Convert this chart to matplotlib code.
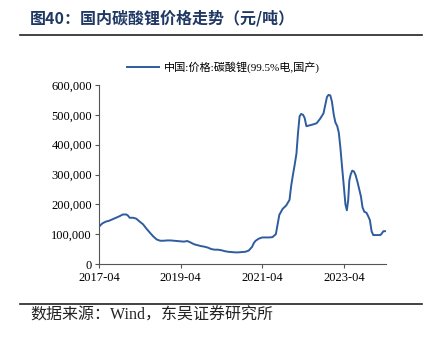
import matplotlib
matplotlib.use("Agg")
import matplotlib.pyplot as plt
import matplotlib.dates as mdates
from matplotlib.lines import Line2D
import pandas as pd

plt.rcParams['font.family'] = ['Liberation Serif', 'Noto Sans CJK SC']
plt.rcParams['axes.unicode_minus'] = False

# price of battery-grade lithium carbonate, yuan per tonne
dates = [
    "2017-04-01", "2017-04-15", "2017-05-01", "2017-06-01", "2017-07-01", "2017-08-01",
    "2017-09-01", "2017-10-01", "2017-11-01", "2017-12-01", "2017-12-15", "2018-01-01",
    "2018-02-01", "2018-03-01", "2018-04-01", "2018-05-01", "2018-06-01", "2018-07-01",
    "2018-08-01", "2018-09-01", "2018-10-01", "2018-11-01", "2018-12-01", "2019-01-01",
    "2019-02-01", "2019-03-01", "2019-04-01", "2019-05-01", "2019-06-01", "2019-07-01",
    "2019-08-01", "2019-09-01", "2019-10-01", "2019-11-01", "2019-12-01", "2020-01-01",
    "2020-02-01", "2020-03-01", "2020-04-01", "2020-05-01", "2020-06-01", "2020-07-01",
    "2020-08-01", "2020-09-01", "2020-10-01", "2020-11-01", "2020-12-01", "2021-01-01",
    "2021-01-15", "2021-02-01", "2021-03-01", "2021-04-01", "2021-05-01", "2021-06-01",
    "2021-07-01", "2021-08-01", "2021-08-15", "2021-09-01", "2021-10-01", "2021-11-01",
    "2021-12-01", "2021-12-15", "2022-01-01", "2022-01-15", "2022-02-01", "2022-02-15",
    "2022-03-01", "2022-03-15", "2022-04-01", "2022-04-15", "2022-05-01", "2022-06-01",
    "2022-07-01", "2022-08-01", "2022-09-01", "2022-10-01", "2022-10-15", "2022-11-01",
    "2022-11-15", "2022-12-01", "2022-12-15", "2023-01-01", "2023-01-15", "2023-02-01",
    "2023-02-15", "2023-03-01", "2023-03-15", "2023-04-01", "2023-04-15", "2023-04-28",
    "2023-05-10", "2023-05-20", "2023-06-01", "2023-06-15", "2023-07-01", "2023-07-15",
    "2023-08-01", "2023-09-01", "2023-09-15", "2023-10-01", "2023-10-20", "2023-11-05",
    "2023-11-20", "2023-12-05", "2023-12-20", "2024-01-10", "2024-02-01", "2024-02-20",
    "2024-03-01", "2024-03-20", "2024-04-10",
]
price = [
    125000, 130000, 136000, 142000, 145000, 150000,
    155000, 160000, 166000, 166000, 163000, 155000,
    155000, 152000, 142000, 133000, 118000, 105000,
    92000, 82000, 78000, 78000, 79000, 79000,
    78000, 77000, 76000, 75000, 77000, 72000,
    66000, 63000, 60000, 58000, 55000, 50000,
    48000, 48000, 46000, 43000, 41000, 40000,
    39000, 39000, 40000, 41000, 45000, 58000,
    70000, 78000, 85000, 89000, 89000, 89000,
    90000, 100000, 130000, 165000, 185000, 196000,
    215000, 260000, 300000, 330000, 370000, 440000,
    495000, 503000, 500000, 490000, 462000, 465000,
    468000, 472000, 487000, 505000, 530000, 560000,
    567000, 565000, 545000, 500000, 475000, 462000,
    440000, 390000, 330000, 260000, 200000, 180000,
    215000, 280000, 300000, 313000, 310000, 298000,
    275000, 226000, 190000, 175000, 172000, 160000,
    147000, 110000, 97000, 97000, 97000, 97000,
    100000, 110000, 110000,
]

x = pd.to_datetime(dates)

fig = plt.figure(figsize=(4.32, 3.41), dpi=100)
ax = fig.add_axes([0.229, 0.2258, 0.6645, 0.5249])

ax.plot(x, price, color='#2F5C9E', lw=1.4, label='中国:价格:碳酸锂(99.5%电,国产)')

ax.set_ylim(0, 600000)
ax.set_yticks(range(0, 600001, 100000))
ax.yaxis.set_major_formatter(matplotlib.ticker.FuncFormatter(lambda v, p: f'{int(v):,}'))
ax.set_xlim(pd.Timestamp('2017-04-01'), pd.Timestamp('2024-04-12'))
ax.set_xticks(pd.to_datetime(['2017-04-01', '2019-04-01', '2021-04-01', '2023-04-01']))
ax.xaxis.set_major_formatter(mdates.DateFormatter('%Y-%m'))

for s in ['top', 'right']:
    ax.spines[s].set_visible(False)
for s in ['left', 'bottom']:
    ax.spines[s].set_color('#555555')
    ax.spines[s].set_linewidth(0.8)
ax.tick_params(axis='both', labelsize=9, length=3, width=0.8, color='#555555', pad=2)
ax.tick_params(axis='x', pad=3)

ax.legend(loc='center', bbox_to_anchor=(0.518, 0.803), bbox_transform=fig.transFigure,
          frameon=False, fontsize=8, handlelength=2.8, handletextpad=0.5)

# header and footer
fig.text(30 / 432, 1 - 18 / 341, '图40：国内碳酸锂价格走势（元/吨）', fontsize=11.5,
         fontweight='bold', color='#1F3864', va='center', ha='left',
         family=['Noto Sans CJK SC'])
fig.add_artist(Line2D([20 / 432, 422 / 432], [1 - 35 / 341] * 2, color='#222222', lw=1.2))
fig.add_artist(Line2D([20 / 432, 422 / 432], [1 - 304 / 341] * 2, color='#222222', lw=1.2))
fig.text(30 / 432, 1 - 316 / 341, '数据来源：Wind，东吴证券研究所', fontsize=11.5,
         color='#222222', va='center', ha='left',
         family=['Liberation Serif', 'Noto Sans CJK SC'])

fig.savefig('out.png', dpi=100)
